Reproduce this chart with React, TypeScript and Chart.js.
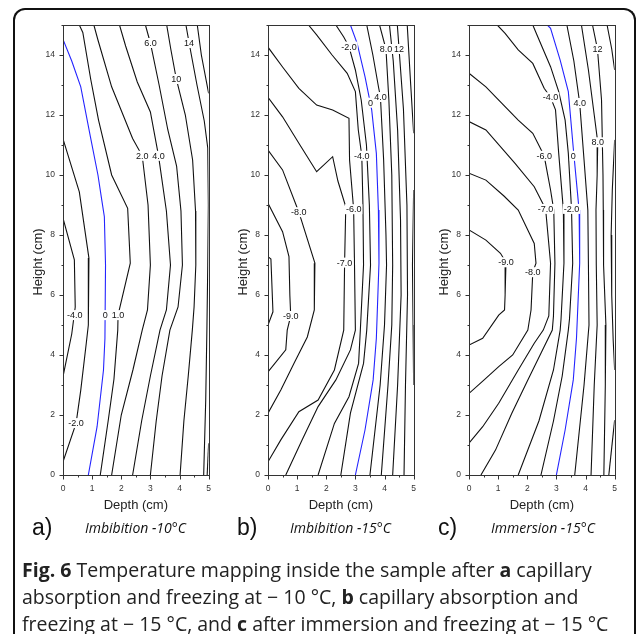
import React, { useEffect, useRef } from 'react';
import { Chart, registerables } from 'chart.js';
Chart.register(...registerables);

type P = [number, number];
type Lbl = [string, number, number];

// axis ranges / ticks
const DEPTH_MIN = 0, DEPTH_MAX = 5;
const HEIGHT_MIN = 0, HEIGHT_MAX = 15;

// ---------- Panel a: Imbibition -10°C ----------
const aM4: P[] = [[0,8.56],[0.39,7.17],[0.42,5.6],[0.3,4.7],[0,3.28]];
const aM2: P[] = [[0,11.2],[0.56,9.44],[0.89,7.23],[0.87,5.0],[0.8,4.4],[0.61,2.83],[0.45,1.73],[0,0.44]];
const a0: P[] = [[0,14.52],[0.3,13.8],[0.61,12.94],[0.94,11.28],[1.2,10.0],[1.33,9.17],[1.42,8.61],[1.46,7.0],[1.44,4.56],[1.39,3.5],[1.17,1.61],[0.87,0]];
const a1: P[] = [[0.56,15],[0.68,14.75],[0.95,13.2],[1.22,11.83],[1.67,10.0],[2.22,8.89],[2.31,7.06],[1.89,5.33],[1.88,4.83],[1.75,3.2],[1.55,1.8],[1.28,0]];
const a2: P[] = [[1.06,15],[1.2,14.5],[1.67,12.94],[2.39,11.22],[2.72,10.64],[2.92,9.0],[3.0,7.0],[2.9,5.5],[2.72,4.83],[2.4,3.5],[2.0,2.0],[1.67,0]];
const a4: P[] = [[1.94,15],[2.15,14.3],[2.55,13.1],[3.0,12.1],[3.28,10.64],[3.55,8.8],[3.69,7.0],[3.55,5.5],[3.33,4.83],[3.0,3.3],[2.7,1.8],[2.39,0]];
const a6: P[] = [[2.83,15],[3.0,14.4],[3.3,13.0],[3.6,11.5],[3.9,10.3],[4.05,8.8],[4.1,7.0],[3.95,5.6],[3.67,4.83],[3.4,3.3],[3.2,1.8],[3.0,0]];
const a10: P[] = [[3.56,15],[3.7,14.2],[3.89,13.2],[4.2,12.0],[4.45,10.5],[4.55,8.8],[4.56,7.0],[4.5,5.6],[4.44,4.83],[4.3,3.3],[4.15,1.8],[4.02,0]];
const a14: P[] = [[4.22,15],[4.33,14.4],[4.6,13.0],[4.85,11.8],[4.97,10.9],[4.99,9.0],[4.97,7.0],[4.94,4.83],[4.9,2.5],[4.83,0]];
const a18: P[] = [[4.61,15],[4.75,14.0],[5.0,12.72]];
const a18b: P[] = [[5.0,1.06],[4.95,0]];
const aLabels: Lbl[] = [["-4.0",0.4,5.33],["-2.0",0.45,1.73],["0",1.45,5.33],["1.0",1.89,5.33],["2.0",2.72,10.64],["4.0",3.28,10.64],["6.0",3.0,14.4],["10",3.89,13.2],["14",4.33,14.4]];

// ---------- Panel b: Imbibition -15°C ----------
const bM10: P[] = [[0,7.28],[0.1,7.2],[0.17,5.44],[0,5.0]];
const bM9: P[] = [[0,9.06],[0.5,8.11],[0.72,7.28],[0.75,6.0],[0.78,5.3],[0.66,4.83],[0.61,4.17],[0,3.44]];
const bM8: P[] = [[0,10.83],[0.5,10.17],[1.06,8.76],[1.61,7.06],[1.59,5.5],[1.35,4.6],[0.89,3.72],[0.44,2.83],[0,2.06]];
const bM7: P[] = [[0,12.59],[0.5,11.94],[1.06,11.06],[1.67,10.11],[2.22,10.61],[2.4,9.8],[2.67,8.94],[2.63,7.08],[2.6,4.83],[2.28,3.5],[1.72,2.5],[1.06,2.11],[0.44,1.17],[0,0.44]];
const bM6: P[] = [[0,14.26],[0.5,13.6],[1.06,12.89],[1.67,12.33],[2.22,12.17],[2.78,11.89],[2.8,10.5],[2.94,8.86],[2.97,7.0],[3.0,4.83],[2.83,4.17],[2.33,3.17],[1.72,2.28],[1.17,1.17],[0.61,0]];
const bM4: P[] = [[1.39,15],[1.67,14.67],[2.2,14.0],[2.72,13.39],[3.0,12.78],[3.1,11.5],[3.22,10.64],[3.26,9.0],[3.28,7.0],[3.17,4.83],[3.11,3.72],[2.78,2.61],[2.28,1.72],[1.72,0]];
const bM2: P[] = [[2.33,15],[2.6,14.6],[2.78,14.28],[3.0,13.5],[3.2,12.5],[3.38,11.0],[3.48,9.0],[3.52,7.0],[3.39,4.83],[3.28,3.72],[2.83,2.06],[2.5,0]];
const b0: P[] = [[2.83,15],[3.06,14.39],[3.33,13.28],[3.56,12.17],[3.72,10.72],[3.79,8.83],[3.81,7.06],[3.72,4.56],[3.61,3.17],[3.33,1.5],[3.0,0]];
const b4: P[] = [[3.39,15],[3.6,14.0],[3.8,12.9],[3.86,12.6],[3.97,10.5],[4.05,8.0],[4.07,7.0],[4.0,5.0],[3.85,3.0],[3.5,0]];
const b8: P[] = [[3.83,15],[4.05,14.2],[4.15,12.5],[4.25,10.0],[4.28,7.0],[4.25,5.0],[4.12,3.0],[3.89,0]];
const b10: P[] = [[4.17,15],[4.3,13.8],[4.45,11.5],[4.55,8.5],[4.57,6.0],[4.45,3.0],[4.28,0]];
const b12: P[] = [[4.44,15],[4.5,14.2],[4.65,12.2],[4.77,9.0],[4.79,6.0],[4.72,3.0],[4.67,0]];
const b16: P[] = [[4.78,15],[4.9,13.0],[5.0,11.39]];
const b16b: P[] = [[5.0,9.5],[4.96,7.0],[4.98,5.0],[5.0,3.0]];
const bLabels: Lbl[] = [["-2.0",2.78,14.28],["8.0",4.05,14.2],["12",4.5,14.2],["0",3.52,12.41],["4.0",3.86,12.6],["-4.0",3.22,10.64],["-8.0",1.06,8.76],["-6.0",2.94,8.86],["-7.0",2.63,7.08],["-9.0",0.78,5.3]];

// ---------- Panel c: Immersion -15°C ----------
const cM9: P[] = [[0,8.17],[0.58,7.83],[1.08,7.39],[1.27,7.09],[1.24,6.0],[1.22,5.5],[1.02,5.33],[0.47,4.56],[0,4.33]];
const cM8: P[] = [[0,10.06],[0.58,9.83],[1.2,9.3],[1.69,8.83],[2.24,7.72],[2.3,7.06],[2.19,6.76],[2.13,5.5],[2.02,4.83],[1.5,4.0],[1.02,3.61],[0.52,3.17],[0,2.72]];
const cM7: P[] = [[0,11.78],[0.58,11.5],[1.58,10.39],[2.24,9.61],[2.63,8.87],[2.8,7.06],[2.74,5.3],[2.55,4.83],[2.24,4.39],[1.69,3.5],[1.02,2.39],[0.47,1.61],[0,1.06]];
const cM6: P[] = [[0,13.39],[0.58,12.94],[1.13,12.39],[1.69,11.83],[2.19,11.39],[2.58,10.64],[2.8,9.5],[2.91,8.83],[2.95,7.06],[2.9,5.3],[2.86,4.83],[2.47,4.06],[2.02,3.17],[1.47,2.06],[0.91,0.83],[0.41,0]];
const cM4: P[] = [[0.97,15],[1.24,14.72],[1.69,14.17],[2.19,13.72],[2.58,12.89],[2.8,12.59],[2.97,12.17],[3.08,10.72],[3.24,8.83],[3.26,7.06],[3.16,5.2],[3.13,4.83],[2.9,3.5],[2.4,1.8],[1.69,0]];
const cM2: P[] = [[2.19,15],[2.36,14.61],[2.8,13.61],[3.08,12.78],[3.3,11.83],[3.41,10.72],[3.52,8.87],[3.56,7.06],[3.45,5.2],[3.41,4.83],[3.2,3.3],[2.9,1.8],[2.47,0]];
const c0: P[] = [[2.69,15],[2.8,14.89],[3.13,13.83],[3.41,12.78],[3.58,10.89],[3.78,8.83],[3.8,7.06],[3.69,4.56],[3.58,3.17],[3.3,1.5],[3.0,0]];
const c4: P[] = [[3.36,15],[3.6,13.8],[3.8,12.4],[3.95,10.5],[4.08,8.83],[4.1,7.0],[4.12,5.0],[3.95,3.0],[3.63,0]];
const c8: P[] = [[3.86,15],[4.1,13.5],[4.3,12.0],[4.42,11.09],[4.4,10.0],[4.36,8.83],[4.37,7.0],[4.4,5.0],[4.3,3.0],[4.19,0]];
const c12: P[] = [[4.24,15],[4.41,14.2],[4.55,12.5],[4.6,10.0],[4.61,8.83],[4.62,7.0],[4.7,5.0],[4.68,3.0],[4.63,0]];
const c16: P[] = [[4.74,15],[4.9,14.2],[5.0,13.5]];
const c16b: P[] = [[5.0,11.17],[4.92,9.5],[4.88,8.0],[4.9,6.0],[4.95,4.5],[5.0,3.5]];
const c20b: P[] = [[5.0,1.83],[4.8,0]];
const cLabels: Lbl[] = [["12",4.41,14.2],["-4.0",2.8,12.59],["4.0",3.8,12.4],["8.0",4.42,11.09],["-6.0",2.58,10.64],["0",3.58,10.64],["-7.0",2.63,8.87],["-2.0",3.52,8.87],["-9.0",1.27,7.09],["-8.0",2.19,6.76]];

const BLACK = '#111';
const BLUE = '#2424ff';

const panels = [
  { left: 20, tag: 'a)', title: 'Imbibition -10°C',
    lines: [aM4, aM2, a0, a1, a2, a4, a6, a10, a14, a18, a18b], zero: a0, labels: aLabels },
  { left: 225, tag: 'b)', title: 'Imbibition -15°C',
    lines: [bM10, bM9, bM8, bM7, bM6, bM4, bM2, b0, b4, b8, b10, b12, b16, b16b], zero: b0, labels: bLabels },
  { left: 426, tag: 'c)', title: 'Immersion -15°C',
    lines: [cM9, cM8, cM7, cM6, cM4, cM2, c0, c4, c8, c12, c16, c16b, c20b], zero: c0, labels: cLabels },
];

const FONT = '"Liberation Sans", Arial, sans-serif';

function ContourPanel({ lines, zero, labels, left }: { lines: P[][]; zero: P[]; labels: Lbl[]; left: number }) {
  const ref = useRef<HTMLCanvasElement>(null);
  useEffect(() => {
    const decor = {
      id: 'decor',
      afterDatasetsDraw(chart: any) {
        const { ctx, chartArea, scales } = chart;
        const { left: l, right: r, top: t, bottom: b } = chartArea;
        const xs = scales.x, ys = scales.y;
        ctx.save();
        // contour labels
        ctx.font = '9px ' + FONT;
        ctx.textAlign = 'center';
        ctx.textBaseline = 'middle';
        labels.forEach(([txt, vx, vy]) => {
          const px = xs.getPixelForValue(vx), py = ys.getPixelForValue(vy);
          const w = ctx.measureText(txt).width;
          ctx.fillStyle = '#fff';
          ctx.fillRect(px - w / 2 - 1, py - 5, w + 2, 10);
          ctx.fillStyle = '#111';
          ctx.fillText(txt, px, py + 0.5);
        });
        // frame
        ctx.strokeStyle = '#333';
        ctx.lineWidth = 1;
        ctx.strokeRect(Math.round(l) + 0.5, Math.round(t) + 0.5, Math.round(r - l), Math.round(b - t));
        // ticks
        ctx.beginPath();
        for (let v = HEIGHT_MIN; v <= HEIGHT_MAX; v += 1) {
          const py = Math.round(ys.getPixelForValue(v)) + 0.5;
          const len = v % 2 === 0 ? 4 : 2;
          ctx.moveTo(Math.round(l) + 0.5, py);
          ctx.lineTo(Math.round(l) + 0.5 - len, py);
        }
        for (let v = DEPTH_MIN; v <= DEPTH_MAX + 1e-6; v += 0.5) {
          const px = Math.round(xs.getPixelForValue(v)) + 0.5;
          const len = Math.abs(v - Math.round(v)) < 1e-6 ? 4 : 2;
          ctx.moveTo(px, Math.round(b) + 0.5);
          ctx.lineTo(px, Math.round(b) + 0.5 + len);
        }
        ctx.stroke();
        // y-axis title (sits slightly below the axis centre in the original)
        ctx.fillStyle = '#222';
        ctx.font = '13px ' + FONT;
        ctx.translate(18.5, 252);
        ctx.rotate(-Math.PI / 2);
        ctx.textAlign = 'center';
        ctx.textBaseline = 'middle';
        ctx.fillText('Height (cm)', 0, 0);
        ctx.restore();
      },
    };
    const chart = new Chart(ref.current as HTMLCanvasElement, {
      type: 'scatter',
      data: {
        datasets: lines.map((pts) => ({
          data: pts.map(([x, y]) => ({ x, y })),
          showLine: true,
          borderColor: pts === zero ? BLUE : BLACK,
          borderWidth: 1.1,
          pointRadius: 0,
          fill: false,
          tension: 0,
        })),
      },
      options: {
        animation: false,
        responsive: false,
        maintainAspectRatio: false,
        events: [],
        layout: { padding: { left: 0, right: 7, top: 15, bottom: 0 } },
        plugins: { legend: { display: false }, tooltip: { enabled: false } },
        scales: {
          x: {
            type: 'linear', min: DEPTH_MIN, max: DEPTH_MAX,
            afterFit: (s: any) => { s.height = 45; },
            grid: { display: false, drawTicks: false },
            border: { display: false },
            ticks: { stepSize: 1, padding: 9, color: '#333', font: { family: FONT, size: 8.5 }, maxRotation: 0, autoSkip: false },
            title: { display: true, text: 'Depth (cm)', color: '#222', font: { family: FONT, size: 13 }, padding: { top: 0, bottom: 7.2 } },
          },
          y: {
            type: 'linear', min: HEIGHT_MIN, max: HEIGHT_MAX,
            afterFit: (s: any) => { s.width = 43; },
            grid: { display: false, drawTicks: false },
            border: { display: false },
            ticks: { stepSize: 1, padding: 8, color: '#333', font: { family: FONT, size: 8.5 }, autoSkip: false,
              callback: (v: any) => (Number(v) % 2 === 0 ? String(v) : '') },
            title: { display: false },
          },
        },
      } as any,
      plugins: [decor],
    });
    return () => chart.destroy();
  }, []);
  return (
    <canvas ref={ref} width={200} height={510}
      style={{ position: 'absolute', left, top: 10, width: 200, height: 510 }} />
  );
}

export default function App() {
  useEffect(() => { document.body.style.overflow = 'hidden'; }, []);
  const capStyle: React.CSSProperties = {
    position: 'absolute', left: 22, whiteSpace: 'nowrap', fontFamily: '"Open Sans", "Noto Sans", sans-serif',
    fontSize: 19.5, color: '#222', lineHeight: '27px',
  };
  return (
    <div>
      <div style={{ position: 'absolute', left: 13, top: 8, width: 619, height: 624, border: '2px solid #111',
        borderBottom: 'none', borderRadius: '12px 12px 0 0', boxSizing: 'content-box' }} />
      {panels.map((p) => (
        <ContourPanel key={p.tag} lines={p.lines} zero={p.zero} labels={p.labels} left={p.left} />
      ))}
      {panels.map((p) => (
        <React.Fragment key={'t' + p.tag}>
          <div style={{ position: 'absolute', left: p.left + 12, top: 513, fontFamily: FONT, fontSize: 23, color: '#111', lineHeight: '28px' }}>{p.tag}</div>
          <div style={{ position: 'absolute', left: p.left + 65, top: 518, fontFamily: '"Open Sans", sans-serif', fontStyle: 'italic', fontSize: 14, color: '#111', lineHeight: '20px', whiteSpace: 'nowrap' }}>{p.title}</div>
        </React.Fragment>
      ))}
      <div style={{ ...capStyle, top: 556 }}><b>Fig. 6</b> Temperature mapping inside the sample after <b>a</b> capillary</div>
      <div style={{ ...capStyle, top: 583 }}>absorption and freezing at − 10 °C, <b>b</b> capillary absorption and</div>
      <div style={{ ...capStyle, top: 610 }}>freezing at − 15 °C, and <b>c</b> after immersion and freezing at − 15 °C</div>
    </div>
  );
}
